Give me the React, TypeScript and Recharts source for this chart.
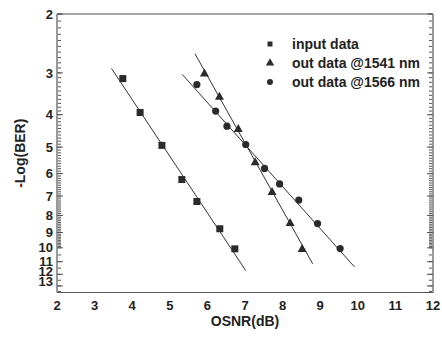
import React from 'react'
import { ComposedChart, XAxis, YAxis, Scatter, Line, Legend, Symbols } from 'recharts'

// measured points, -Log(BER) against OSNR
const inputOsnr = [3.75, 4.21, 4.79, 5.32, 5.72, 6.33, 6.73]
const inputBer = [3.12, 3.94, 4.94, 6.25, 7.27, 8.77, 10.07]

const out1541Osnr = [5.92, 6.32, 6.82, 7.27, 7.72, 8.2, 8.52]
const out1541Ber = [3.0, 3.52, 4.4, 5.53, 6.79, 8.4, 10.05]

const out1566Osnr = [5.72, 6.22, 6.52, 7.02, 7.52, 7.92, 8.43, 8.93, 9.53]
const out1566Ber = [3.25, 3.9, 4.33, 4.91, 5.79, 6.44, 7.2, 8.46, 10.05]

// fitted lines (end points)
const inputFitOsnr = [3.45, 7.02]
const inputFitBer = [2.91, 11.7]
const out1541FitOsnr = [5.67, 8.8]
const out1541FitBer = [2.63, 11.16]
const out1566FitOsnr = [5.33, 9.91]
const out1566FitBer = [3.03, 11.4]

const seriesNames = ['input data', 'out data @1541 nm', 'out data @1566 nm']

const xTicks = [2, 3, 4, 5, 6, 7, 8, 9, 10, 11, 12]
const xMinorTicks = xTicks.slice(0, -1).map(v => v + 0.5)
const yTicks = [2, 3, 4, 5, 6, 7, 8, 9, 10, 11, 12, 13]
const yMinorTicks = [
    ...Array.from({ length: 80 }, (_, i) => Math.round((2 + i * 0.1) * 10) / 10),
    ...Array.from({ length: 8 }, (_, i) => 10 + i * 0.5),
]
// the original squeezes the last two labels upward a little
const yLabelNudge: Record<number, number> = { 12: -2.5, 13: -5 }

const X_DOMAIN = [2, 12]
const Y_DOMAIN = [2, 13.6]

const FONT = '"Liberation Sans", Arial, Helvetica, sans-serif'
const INK = '#2b2b2b'
const FRAME = '#555'

const pairs = (xs: number[], ys: number[]) => xs.map((x, i) => ({ x, y: ys[i] }))

const inputData = pairs(inputOsnr, inputBer)
const out1541Data = pairs(out1541Osnr, out1541Ber)
const out1566Data = pairs(out1566Osnr, out1566Ber)
const inputFit = pairs(inputFitOsnr, inputFitBer)
const out1541Fit = pairs(out1541FitOsnr, out1541FitBer)
const out1566Fit = pairs(out1566FitOsnr, out1566FitBer)

const SquareDot = (p: any) => (
    <rect x={p.cx - 3.5} y={p.cy - 3.5} width={7} height={7} fill={INK} />
)
const TriangleDot = (p: any) => (
    <polygon
        points={`${p.cx},${p.cy - 4.5} ${p.cx - 4.5},${p.cy + 3.5} ${p.cx + 4.5},${p.cy + 3.5}`}
        fill={INK}
    />
)
const CircleDot = (p: any) => <circle cx={p.cx} cy={p.cy} r={3.6} fill={INK} />

const iconSize: Record<string, number> = { square: 25, triangle: 30, circle: 28 }

const LegendBox = (props: any) => {
    const payload = (props.payload || []).filter((e: any) => e.type !== 'none' && seriesNames.includes(e.value))
    return (
        <div style={{ fontFamily: FONT, fontWeight: 'bold', fontSize: 14, color: '#222' }}>
            {payload.map((entry: any) => (
                <div key={entry.value} style={{ display: 'flex', alignItems: 'center', height: 19 }}>
                    <svg width={12} height={12} style={{ marginRight: 16 }}>
                        <Symbols cx={6} cy={6} type={entry.type} size={iconSize[entry.type] || 25} fill={INK} />
                    </svg>
                    <span>{entry.value}</span>
                </div>
            ))}
        </div>
    )
}

const tickStyle = { fill: '#222', fontSize: 13, fontWeight: 'bold', fontFamily: FONT }
const titleStyle = { fill: '#222', fontSize: 14, fontWeight: 'bold', fontFamily: FONT }

const YTick = (p: any) => (
    <text
        x={p.x}
        y={p.y + (yLabelNudge[p.payload.value] || 0)}
        dy="0.355em"
        textAnchor="end"
        style={tickStyle}
        fill="#222"
    >
        {p.payload.value}
    </text>
)

// tick marks only, no label
const NoLabel = () => <g />

const deco = {
    type: 'number' as const,
    allowDataOverflow: true,
    interval: 0 as const,
    mirror: true,
    tick: NoLabel,
    tickLine: { stroke: FRAME, strokeWidth: 1 },
}

export default function App() {
    return (
        <div style={{ position: 'fixed', top: 0, left: 0, background: '#fff' }}>
            <ComposedChart width={442} height={338} margin={{ top: 14, right: 9, bottom: 0, left: 0 }}>
                {/* main axes with labels */}
                <XAxis
                    xAxisId="x"
                    dataKey="x"
                    type="number"
                    domain={X_DOMAIN}
                    allowDataOverflow
                    ticks={xTicks}
                    interval={0}
                    height={45.5}
                    tickLine={false}
                    tickSize={6}
                    axisLine={{ stroke: FRAME, strokeWidth: 1.2 }}
                    tick={tickStyle}
                    label={{ value: 'OSNR(dB)', position: 'center', dy: 6, style: titleStyle }}
                />
                <YAxis
                    yAxisId="y"
                    dataKey="y"
                    type="number"
                    scale="log"
                    domain={Y_DOMAIN}
                    allowDataOverflow
                    reversed
                    ticks={yTicks}
                    interval={0}
                    width={57}
                    tickLine={false}
                    tickSize={2}
                    tickMargin={2}
                    axisLine={{ stroke: FRAME, strokeWidth: 1.2 }}
                    tick={<YTick />}
                    label={{ value: '-Log(BER)', angle: -90, position: 'center', dx: -8, style: titleStyle }}
                />

                {/* inward tick marks around the frame */}
                <XAxis xAxisId="xb1" {...deco} domain={X_DOMAIN} ticks={xTicks} height={1}
                    axisLine={false} tickSize={5} />
                <XAxis xAxisId="xb2" {...deco} domain={X_DOMAIN} ticks={xMinorTicks} height={1}
                    axisLine={false} tickSize={3} />
                <XAxis xAxisId="xt1" orientation="top" {...deco} domain={X_DOMAIN} ticks={xTicks} height={1}
                    axisLine={{ stroke: FRAME, strokeWidth: 1.2 }} tickSize={5} />
                <XAxis xAxisId="xt2" orientation="top" {...deco} domain={X_DOMAIN} ticks={xMinorTicks} height={1}
                    axisLine={false} tickSize={3} />
                <YAxis yAxisId="yl1" {...deco} scale="log" reversed domain={Y_DOMAIN} ticks={yTicks} width={1}
                    axisLine={false} tickSize={6} />
                <YAxis yAxisId="yl2" {...deco} scale="log" reversed domain={Y_DOMAIN} ticks={yMinorTicks} width={1}
                    axisLine={false} tickSize={3} />
                <YAxis yAxisId="yr1" orientation="right" {...deco} scale="log" reversed domain={Y_DOMAIN} ticks={yTicks}
                    width={1} axisLine={{ stroke: FRAME, strokeWidth: 1.2 }} tickSize={6} />
                <YAxis yAxisId="yr2" orientation="right" {...deco} scale="log" reversed domain={Y_DOMAIN} ticks={yMinorTicks}
                    width={1} axisLine={false} tickSize={3} />

                <Line xAxisId="x" yAxisId="y" data={inputFit} dataKey="y" stroke="#333" strokeWidth={1}
                    dot={false} activeDot={false} legendType="none" isAnimationActive={false} />
                <Line xAxisId="x" yAxisId="y" data={out1541Fit} dataKey="y" stroke="#333" strokeWidth={1}
                    dot={false} activeDot={false} legendType="none" isAnimationActive={false} />
                <Line xAxisId="x" yAxisId="y" data={out1566Fit} dataKey="y" stroke="#333" strokeWidth={1}
                    dot={false} activeDot={false} legendType="none" isAnimationActive={false} />

                <Scatter xAxisId="x" yAxisId="y" name={seriesNames[0]} data={inputData} shape={SquareDot}
                    legendType="square" fill={INK} isAnimationActive={false} />
                <Scatter xAxisId="x" yAxisId="y" name={seriesNames[1]} data={out1541Data} shape={TriangleDot}
                    legendType="triangle" fill={INK} isAnimationActive={false} />
                <Scatter xAxisId="x" yAxisId="y" name={seriesNames[2]} data={out1566Data} shape={CircleDot}
                    legendType="circle" fill={INK} isAnimationActive={false} />

                <Legend
                    layout="vertical"
                    align="center"
                    verticalAlign="middle"
                    content={<LegendBox />}
                    wrapperStyle={{ top: 34, left: 264, width: 'auto' }}
                />
            </ComposedChart>
        </div>
    )
}
